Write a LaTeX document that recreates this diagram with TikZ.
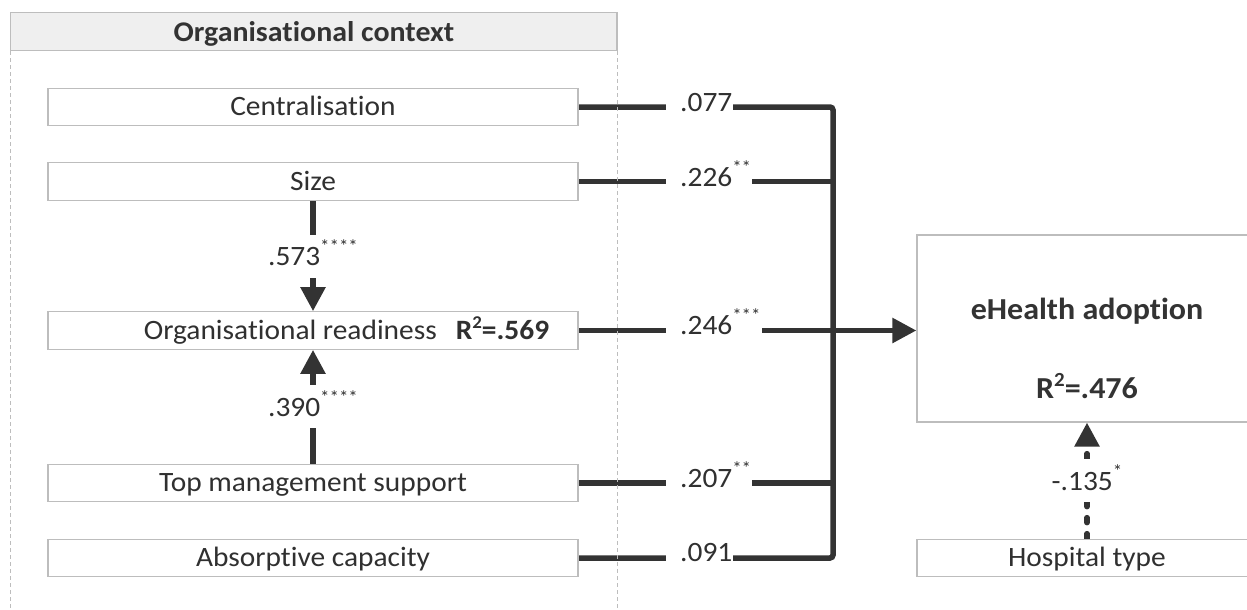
\documentclass[tikz,border=0pt]{standalone}
\usepackage{fontspec}
\setmainfont{Carlito}[FakeStretch=1.05, Ligatures=CommonOff]
\usetikzlibrary{arrows.meta,calc,backgrounds}
\definecolor{ink}{HTML}{333333}
\definecolor{txt}{HTML}{303030}
\definecolor{rim}{HTML}{BDBDBD}
\definecolor{band}{HTML}{EFEFEF}
% significance stars and squared R
\newcommand\sigstars[1]{\raisebox{13pt}{\fontsize{18}{18}\selectfont #1}}
\newcommand\rsqsmall[1]{\textbf{R\raisebox{11pt}{\fontsize{18}{18}\selectfont 2}=#1}}
\newcommand\rsqbig[1]{\textbf{R\raisebox{12pt}{\fontsize{20}{20}\selectfont 2}=#1}}
\begin{document}
\begin{tikzpicture}[x=1pt, y=-1pt,
  every node/.style={text=txt},
  hdr/.style={draw=rim, fill=band, line width=1.2pt, minimum width=606.3pt,
    minimum height=38.4pt, inner sep=0pt, text=ink,
    font=\bfseries\fontsize{28.5}{30}\selectfont, text height=20pt, text depth=0pt},
  varbox/.style={draw=rim, line width=1.2pt, fill=white, minimum width=530pt,
    minimum height=37.5pt, inner sep=0pt, font=\fontsize{28}{30}\selectfont,
    text height=17pt, text depth=0pt},
  bigbox/.style={draw=rim, line width=1.2pt, fill=white, minimum width=340pt,
    minimum height=187pt, inner sep=0pt},
  bigtext/.style={anchor=base, inner sep=0pt, text=ink,
    font=\bfseries\fontsize{30.5}{33}\selectfont},
  conn/.style={draw=ink, line width=5.5pt},
  tip/.style={-{Triangle[length=24pt,width=24pt]}},
  dotline/.style={dash pattern=on 5pt off 11pt, line cap=round},
  hlbl/.style={fill=white, anchor=base west, inner xsep=1pt, inner ysep=1pt,
    font=\fontsize{28}{30}\selectfont, text height=19pt, text depth=0pt},
  vlbl/.style={fill=white, inner sep=0pt, minimum height=43pt,
    font=\fontsize{28}{30}\selectfont, text height=19pt, text depth=0pt},
  frame/.style={draw=rim, line width=1pt, dash pattern=on 4pt off 3pt}]

\useasboundingbox (0,0) rectangle (1247,610);
\clip (0,0) rectangle (1247,610);

% organisational context panel
\node[hdr] (hdr) at (313.85,31.5) {Organisational context};
\draw[frame] (hdr.south west) -- ++(0,580);
\draw[frame] (hdr.south east) -- ++(0,580);

% predictor boxes
\node[varbox] (cent) at (313,107) {Centralisation};
\node[varbox] (size) at (313,181.5) {Size};
\node[varbox] (org) at (313,330.5)
  {\hspace*{67pt}Organisational readiness\hspace{19pt}\rsqsmall{.569}};
\node[varbox] (top) at (313,483) {Top management support};
\node[varbox] (abs) at (313,558) {Absorptive capacity};

% outcome and control
\node[bigbox] (eh) at (1087,328.5) {};
\node[bigtext] (ehT) at ($(eh.center)+(0,-9.5)$) {eHealth adoption};
\node[bigtext] (ehR) at ($(eh.center)+(0,69.5)$) {\rsqbig{.476}};
\node[varbox, minimum width=340pt] (hosp) at (1087,558) {Hospital type};

\coordinate (bus) at (833,330);

\begin{pgfonlayer}{background}
  \draw[conn, rounded corners=3pt] (cent.east) -- (cent.east -| bus)
    -- (abs.east -| bus) -- (abs.east);
  \foreach \n in {size,org,top} \draw[conn] (\n.east) -- (\n.east -| bus);
  \draw[conn, tip] (org.east -| bus) -- (org.east -| eh.west);
  \draw[conn, tip] (size.south) -- node[vlbl] (l573) {.573\sigstars{****}} (org.north);
  \draw[conn, tip] (top.north) -- node[vlbl] (l390) {.390\sigstars{****}} (org.south);
  \draw[conn, tip, dotline] (hosp.north) -- node[vlbl] (l135) {-.135\sigstars{*}} (eh.south);
\end{pgfonlayer}

% path coefficients on the horizontal connectors
\node[hlbl] (l077) at (666,111) {\hspace*{13pt}.077};
\node[hlbl] (l226) at (666,186) {\hspace*{13pt}.226\sigstars{**}};
\node[hlbl] (l246) at (666,334) {\hspace*{13pt}.246\sigstars{***}};
\node[hlbl] (l207) at (666,487) {\hspace*{13pt}.207\sigstars{**}};
\node[hlbl] (l091) at (666,561) {\hspace*{13pt}.091};
\end{tikzpicture}
\end{document}
